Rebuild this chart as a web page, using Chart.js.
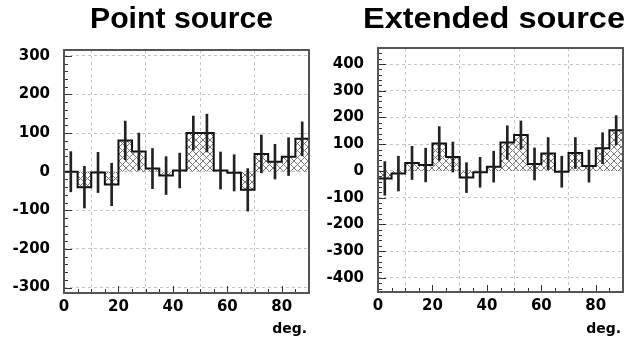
<!DOCTYPE html>
<html>
<head>
<meta charset="utf-8">
<script src="https://cdn.jsdelivr.net/npm/chart.js@4.4.1/dist/chart.umd.min.js"></script>
<style>
  body { margin: 0; background: #fff; }
  #wrap { position: relative; width: 627px; height: 345px; }
  canvas { position: absolute; top: 0; }
</style>
</head>
<body>
<div id="wrap">
  <canvas id="pointChart" width="320" height="345" style="left:0"></canvas>
  <canvas id="extChart" width="307" height="345" style="left:320px"></canvas>
</div>
<script>
// bins of 5 deg from 0 to 90
const binEdges = [0, 5, 10, 15, 20, 25, 30, 35, 40, 45, 50, 55, 60, 65, 70, 75, 80, 85, 90];
const xTicks = [0, 20, 40, 60, 80];

// Point source
const pointVals = [0, -40, -2, -33, 81, 52, 8, -10, 3, 100, 100, 3, -3, -47, 46, 26, 39, 85];
const pointErrs = [52, 54, 52, 55, 50, 48, 52, 49, 45, 44, 49, 48, 47, 55, 49, 45, 49, 44];
const pointTicks = [-300, -200, -100, 0, 100, 200, 300];

// Extended source
const extVals = [-28, -10, 30, 22, 103, 52, -25, -5, 16, 106, 134, 26, 65, -3, 67, 18, 85, 152];
const extErrs = [63, 65, 62, 63, 63, 56, 56, 56, 58, 63, 53, 60, 60, 58, 58, 60, 58, 55];
const extTicks = [-400, -300, -200, -100, 0, 100, 200, 300, 400];

// cross hatch pattern for the histogram fill
function makeHatch() {
    const c = document.createElement('canvas');
    c.width = 7; c.height = 7;
    const g = c.getContext('2d');
    g.strokeStyle = '#7a7a7a';
    g.lineWidth = 1;
    g.beginPath();
    g.moveTo(0, 0); g.lineTo(7, 7);
    g.moveTo(7, 0); g.lineTo(0, 7);
    g.stroke();
    return g.createPattern(c, 'repeat');
}
const hatch = makeHatch();

// frame, inside ticks, title and "deg." label
const panelPlugin = {
    id: 'panelText',
    afterDatasetsDraw(chart, args, opts) {
        const ctx = chart.ctx;
        const a = chart.chartArea;
        const xs = chart.scales.x, ys = chart.scales.y;
        ctx.save();
        ctx.strokeStyle = '#333';
        ctx.lineWidth = 1;
        ctx.beginPath();
        for (let v = 0; v <= 90; v += 5) {
            const px = Math.round(xs.getPixelForValue(v)) + 0.5;
            const len = v % 20 === 0 ? 7 : 4;
            ctx.moveTo(px, a.bottom); ctx.lineTo(px, a.bottom - len);
        }
        for (let v = Math.ceil(ys.min / 20) * 20; v <= ys.max; v += 20) {
            const py = Math.round(ys.getPixelForValue(v)) + 0.5;
            const len = v % 100 === 0 ? 8 : 4;
            ctx.moveTo(a.left, py); ctx.lineTo(a.left + len, py);
        }
        ctx.stroke();
        ctx.strokeStyle = '#555';
        ctx.lineWidth = 2;
        ctx.strokeRect(a.left, a.top, a.right - a.left, a.bottom - a.top);

        ctx.fillStyle = '#000';
        ctx.textBaseline = 'alphabetic';
        ctx.font = 'bold 29px "Liberation Sans", Arial, sans-serif';
        const w = ctx.measureText(opts.title).width;
        const sx = opts.titleWidth / w;
        ctx.save();
        ctx.translate(opts.titleX - opts.titleWidth / 2, 28);
        ctx.scale(sx, 1);
        ctx.textAlign = 'left';
        ctx.fillText(opts.title, 0, 0);
        ctx.restore();

        ctx.font = 'bold 14px "DejaVu Sans", sans-serif';
        ctx.textAlign = 'right';
        ctx.fillText('deg.', a.right - 2, 333);
        ctx.restore();
    }
};

function makePanel(id, vals, errs, yTicks, p) {
    const steps = binEdges.map((x, i) => ({ x: x, y: vals[Math.min(i, vals.length - 1)] }));
    const bars = vals.map((v, i) => ({
        x: (binEdges[i] + binEdges[i + 1]) / 2,
        y: [v - errs[i], v + errs[i]]
    }));
    const canvas = document.getElementById(id);
    return new Chart(canvas.getContext('2d'), {
        type: 'line',
        data: {
            datasets: [{
                type: 'line',
                data: steps,
                stepped: 'before',
                borderColor: '#111',
                borderWidth: 2,
                backgroundColor: hatch,
                fill: 'origin',
                pointRadius: 0,
                order: 2
            }, {
                type: 'bar',
                data: bars,
                backgroundColor: '#222',
                barThickness: 2,
                order: 1
            }]
        },
        options: {
            responsive: false,
            animation: false,
            devicePixelRatio: 1,
            layout: { padding: { top: p.top, right: p.right, left: 0, bottom: 0 } },
            plugins: {
                legend: { display: false },
                tooltip: { enabled: false },
                panelText: { title: p.title, titleX: p.titleX, titleWidth: p.titleWidth }
            },
            scales: {
                x: {
                    type: 'linear',
                    min: 0,
                    max: 90,
                    offset: false,
                    afterBuildTicks: s => { s.ticks = xTicks.map(v => ({ value: v })); },
                    afterFit: s => { s.height = 345 - p.bottom; },
                    ticks: {
                        color: '#000',
                        padding: 5,
                        maxRotation: 0,
                        font: { family: '"DejaVu Sans", sans-serif', size: 15, weight: 'bold' }
                    },
                    grid: { color: '#c4c4c4', drawTicks: false },
                    border: { display: false, dash: [3, 3] }
                },
                y: {
                    min: p.yMin,
                    max: p.yMax,
                    afterBuildTicks: s => { s.ticks = yTicks.map(v => ({ value: v })); },
                    afterFit: s => { s.width = p.left; },
                    ticks: {
                        color: '#000',
                        padding: 14,
                        font: { family: '"DejaVu Sans", sans-serif', size: 15, weight: 'bold' }
                    },
                    grid: { color: '#c4c4c4', drawTicks: false },
                    border: { display: false, dash: [3, 3] }
                }
            }
        },
        plugins: [panelPlugin]
    });
}

makePanel('pointChart', pointVals, pointErrs, pointTicks, {
    top: 50, bottom: 293, left: 64, right: 11,
    yMin: -314, yMax: 315,
    title: 'Point source', titleX: 181.5, titleWidth: 183
});
makePanel('extChart', extVals, extErrs, extTicks, {
    top: 48, bottom: 292, left: 58, right: 4,
    yMin: -453, yMax: 460,
    title: 'Extended source', titleX: 174, titleWidth: 262
});
</script>
</body>
</html>
